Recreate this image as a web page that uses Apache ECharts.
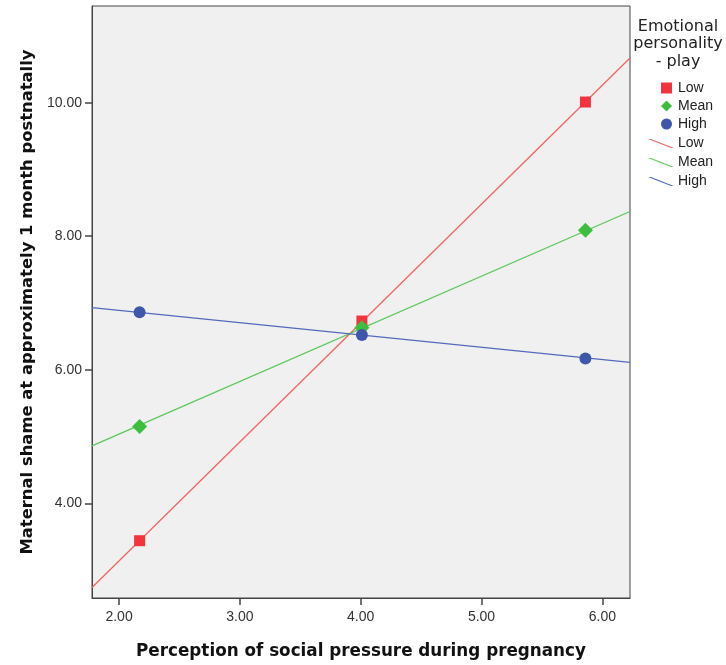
<!DOCTYPE html>
<html>
<head>
<meta charset="utf-8">
<script src="https://cdn.jsdelivr.net/npm/echarts@6/dist/echarts.min.js"></script>
<style>
  html, body { margin: 0; padding: 0; background: #fff; }
  #chart { width: 726px; height: 665px; }
</style>
</head>
<body>
<div id="chart"></div>
<script>
// Moderator levels of "Emotional personality - play"
const groups = ['Low', 'Mean', 'High'];

// Predicted shame at three levels of social pressure
const pressureLevels = [2.17, 4.01, 5.86];
const shameLow  = [3.44, 6.73, 10.01];
const shameMean = [5.15, 6.63, 8.09];
const shameHigh = [6.86, 6.52, 6.17];

// Fit lines across the full x range
const pressureEnds = [1.776, 6.229];
const fitLow  = [2.74, 10.67];
const fitMean = [4.86, 8.37];
const fitHigh = [6.93, 6.11];

// Axis ticks
const xTicks = [2, 3, 4, 5, 6];
const yTicks = [4, 6, 8, 10];

const markerColors = ['#F2353D', '#3DBE3D', '#3F57AA'];
const lineColors = ['#F26464', '#5CC75C', '#5369BC'];
const markerShapes = ['rect', 'diamond', 'circle'];
const markerSizes = [11, 15, 12];

const pointSets = [shameLow, shameMean, shameHigh];
const fitSets = [fitLow, fitMean, fitHigh];

const pair = (xs, ys) => xs.map((x, i) => [x, ys[i]]);

const series = [];
groups.forEach((g, i) => {
  series.push({
    name: g,
    type: 'scatter',
    data: pair(pressureLevels, pointSets[i]),
    symbol: markerShapes[i],
    symbolSize: markerSizes[i],
    itemStyle: { color: markerColors[i], opacity: 1 },
    z: 5
  });
});
groups.forEach((g, i) => {
  series.push({
    name: g + ' fit',
    type: 'line',
    data: pair(pressureEnds, fitSets[i]),
    symbol: 'none',
    lineStyle: { color: lineColors[i], width: 1.3 },
    itemStyle: { color: lineColors[i] },
    z: 3
  });
});

const lineIcon = 'path://M0,0L3,0L26,9L23,9Z';
const fontFamily = 'Arial, "Liberation Sans", sans-serif';
const wideFont = '"DejaVu Sans", Arial, sans-serif';

const chart = echarts.init(document.getElementById('chart'));
chart.setOption({
  animation: false,
  backgroundColor: '#ffffff',
  title: {
    text: 'Emotional\npersonality\n- play',
    left: 678,
    top: 18,
    padding: 0,
    textAlign: 'center',
    textStyle: {
      fontFamily: wideFont, fontSize: 16, fontWeight: 'normal', color: '#222', lineHeight: 17.5, align: 'center'
    }
  },
  legend: [
    {
      orient: 'vertical',
      left: 661,
      top: 81,
      padding: 0,
      itemWidth: 11,
      itemHeight: 11,
      itemGap: 4,
      selectedMode: false,
      textStyle: { fontFamily, fontSize: 14, color: '#222', padding: [0, 0, 0, 1] },
      data: groups.map((g, i) => ({ name: g, icon: markerShapes[i] }))
    },
    {
      orient: 'vertical',
      left: 648,
      top: 136.5,
      padding: 0,
      itemWidth: 26,
      itemHeight: 10,
      itemGap: 5,
      selectedMode: false,
      formatter: (name) => name.replace(' fit', ''),
      textStyle: { fontFamily, fontSize: 14, color: '#222', padding: [0, 0, 0, -1] },
      data: groups.map((g) => ({ name: g + ' fit', icon: lineIcon }))
    }
  ],
  grid: {
    left: 92, top: 6, right: 96, bottom: 67,
    show: true,
    backgroundColor: '#F0F0F0',
    borderColor: '#444',
    borderWidth: 1
  },
  xAxis: {
    type: 'value',
    min: pressureEnds[0],
    max: pressureEnds[1],
    name: 'Perception of social pressure during pregnancy',
    nameLocation: 'middle',
    nameGap: 45,
    nameTextStyle: { fontFamily: wideFont, fontSize: 16.8, fontWeight: 'bold', color: '#111' },
    axisLine: { show: true, lineStyle: { color: '#444', width: 1 } },
    axisTick: { show: true, length: 7, customValues: xTicks, lineStyle: { color: '#444', width: 1.5 } },
    axisLabel: {
      customValues: xTicks,
      margin: 12,
      fontFamily, fontSize: 14, color: '#333',
      formatter: (v) => v.toFixed(2)
    },
    splitLine: { show: false }
  },
  yAxis: {
    type: 'value',
    min: 2.582,
    max: 11.448,
    name: 'Maternal shame at approximately 1 month postnatally',
    nameLocation: 'middle',
    nameGap: 54,
    nameTextStyle: { fontFamily: wideFont, fontSize: 16.4, fontWeight: 'bold', color: '#111' },
    axisLine: { show: true, lineStyle: { color: '#444', width: 1 } },
    axisTick: { show: true, length: 7, customValues: yTicks, lineStyle: { color: '#444', width: 1.5 } },
    axisLabel: {
      customValues: yTicks,
      margin: 10,
      fontFamily, fontSize: 14, color: '#333',
      formatter: (v) => v.toFixed(2)
    },
    splitLine: { show: false }
  },
  series
});
</script>
</body>
</html>
